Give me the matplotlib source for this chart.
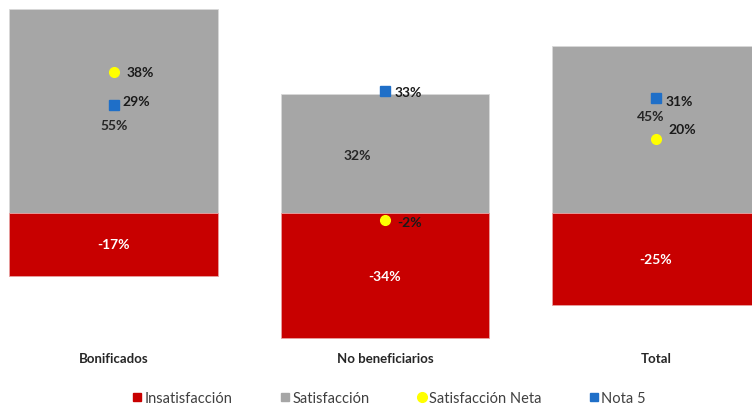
import matplotlib.pyplot as plt
from matplotlib.lines import Line2D

# data (percent)
categories = ["Bonificados", "No beneficiarios", "Total"]
satisfaccion = [55, 32, 45]
insatisfaccion = [-17, -34, -25]
satisfaccion_neta = [38, -2, 20]
nota5 = [29, 33, 31]

GREY = "#A6A6A6"
RED = "#C80000"
YELLOW = "#FFFF00"
BLUE = "#1F6FC8"

plt.rcParams["font.family"] = ["Lato", "DejaVu Sans"]

fig = plt.figure(figsize=(7.52, 4.06), dpi=100)
ax = fig.add_axes([0, 1 - 345 / 406, 1, 345 / 406])

x = list(range(len(categories)))
ax.bar(x, satisfaccion, width=0.77, color=GREY, edgecolor="#d9d9d9", linewidth=0.6)
ax.bar(x, insatisfaccion, width=0.77, color=RED, edgecolor="#e8a0a0", linewidth=0.6)
ax.plot(x, satisfaccion_neta, "o", color=YELLOW, markersize=7, zorder=4)
ax.plot(x, nota5, "s", color=BLUE, markersize=7, zorder=4)

# bar value labels (grey labels were nudged by hand in the original)
sat_offsets = [(0, -10), (-20, -1), (-4, 10)]
for xi, v, off in zip(x, satisfaccion, sat_offsets):
    ax.annotate(f"{v}%", (xi, v / 2), xytext=off, textcoords="offset points",
                ha="center", va="center", fontsize=10, fontweight="bold",
                color="#262626")
for xi, v in zip(x, insatisfaccion):
    ax.annotate(f"{v}%", (xi, v / 2), ha="center", va="center", fontsize=10,
                fontweight="bold", color="white")

neta_offsets = [(9, 0), (9, -1), (9, 7)]
for xi, v, off in zip(x, satisfaccion_neta, neta_offsets):
    ax.annotate(f"{v}%", (xi, v), xytext=off, textcoords="offset points",
                ha="left", va="center", fontsize=10, fontweight="bold",
                color="#1a1a1a")
nota_offsets = [(6, 3), (7, -1), (7, -2)]
for xi, v, off in zip(x, nota5, nota_offsets):
    ax.annotate(f"{v}%", (xi, v), xytext=off, textcoords="offset points",
                ha="left", va="center", fontsize=10, fontweight="bold",
                color="#1a1a1a")

ax.set_xlim(-0.42, 2.354)
ax.set_ylim(-35.5, 57.8)
ax.set_yticks([])
ax.set_xticks(x)
ax.set_xticklabels(categories, fontsize=9.5, fontweight="bold", color="#262626")
ax.tick_params(axis="x", length=0, pad=6)
for spine in ax.spines.values():
    spine.set_visible(False)

handles = [
    Line2D([], [], marker="s", linestyle="", color=RED, markersize=6),
    Line2D([], [], marker="s", linestyle="", color=GREY, markersize=6),
    Line2D([], [], marker="o", linestyle="", color=YELLOW, markersize=7),
    Line2D([], [], marker="s", linestyle="", color=BLUE, markersize=6),
]
labels = ["Insatisfacción", "Satisfacción", "Satisfacción Neta", "Nota 5"]
fig.legend(handles, labels, loc="center", bbox_to_anchor=(0.518, 0.018),
           ncol=4, frameon=False, fontsize=10.5, handlelength=0.6,
           handletextpad=0.2, columnspacing=3.3, labelcolor="#404040")

fig.savefig("out.png", dpi=100)
